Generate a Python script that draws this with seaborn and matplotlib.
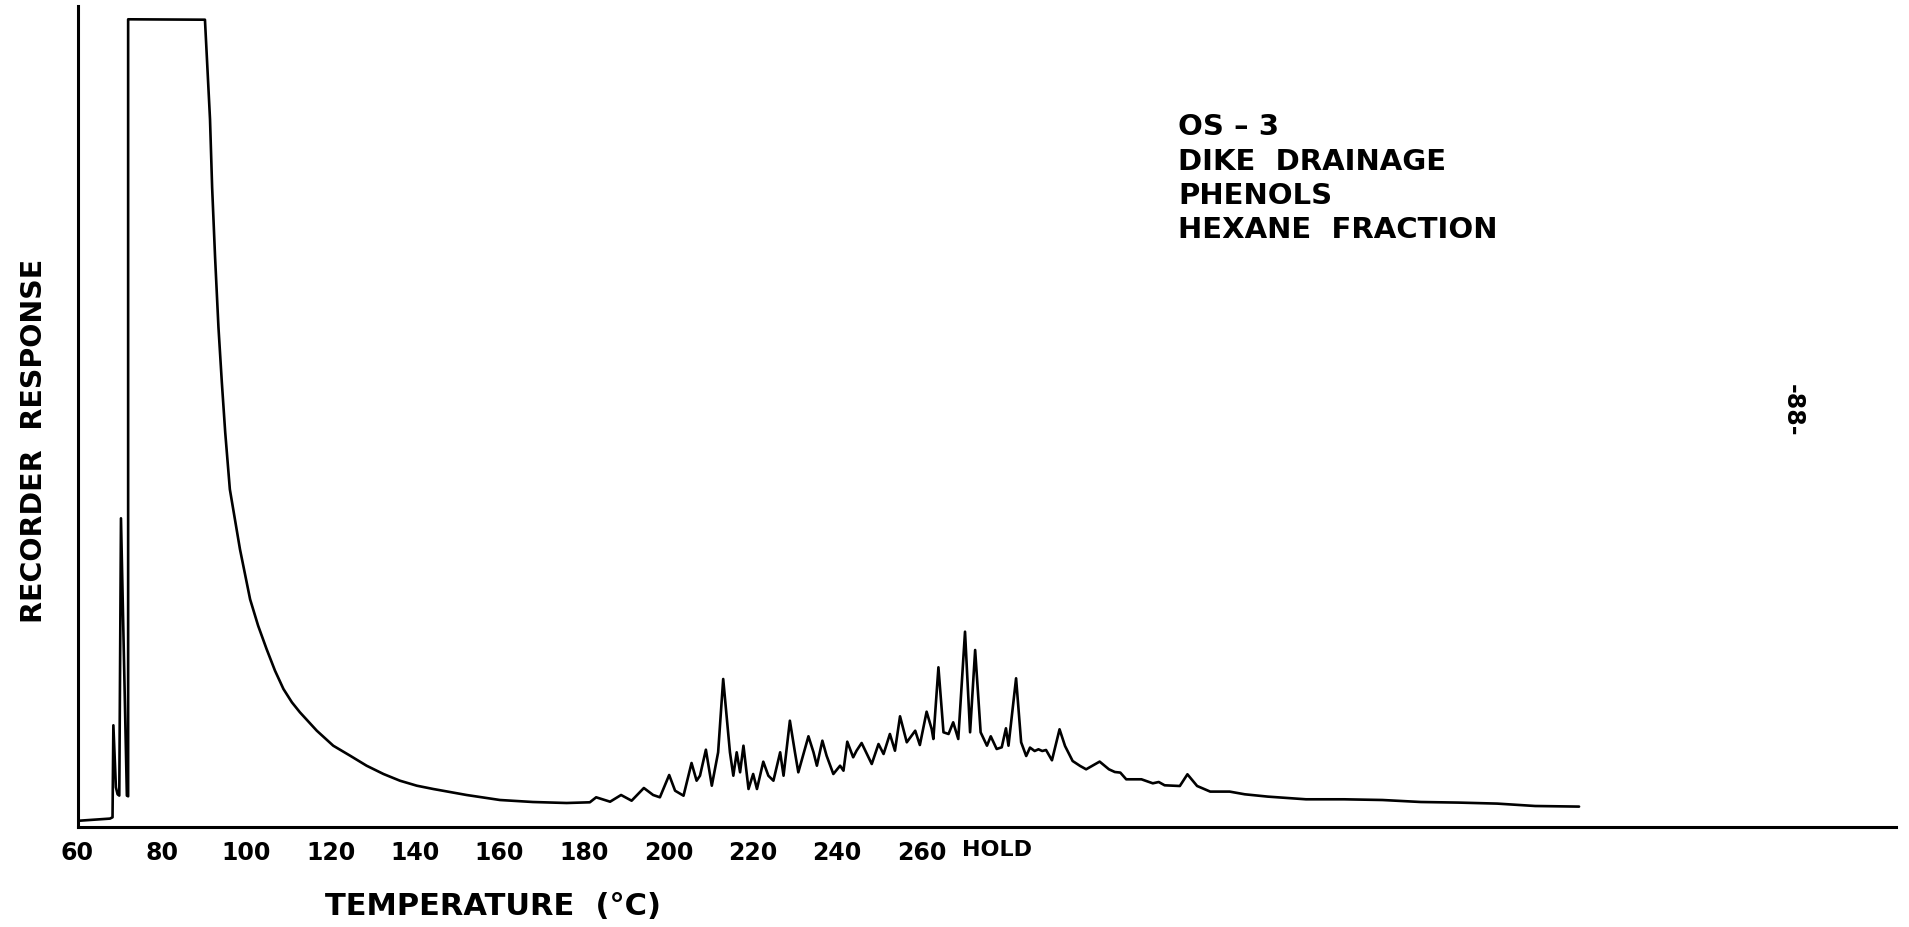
import numpy as np
import pandas as pd
import matplotlib
matplotlib.use("Agg")
import matplotlib.pyplot as plt
import seaborn as sns

# chromatogram trace
# x = oven temperature in deg C (carried on linearly past the 265 C hold), y = recorder units
solvent_x = [60.1, 67.7, 68.3, 68.5, 69.1, 69.5, 69.9, 70.3, 71.7, 72.0, 72.0, 90.2]
solvent_y = [6.5, 8.7, 10, 102, 40, 33, 31.7, 309, 31.7, 31, 808, 807.6]

decay_x = [91.4, 91.9, 92.6, 93.4, 94.2, 95.0, 96.1, 98.5, 100.9, 102.8,
           104.8, 106.8, 108.8, 110.8, 112.7, 116.7, 120.6, 124.6, 128.5, 132.5,
           136.4, 140.4, 144.3, 152.2, 160.1, 167.9, 175.9, 181.4]
decay_y = [708, 640, 570, 500, 445, 395, 338, 278, 228, 201.6,
           178.3, 156.6, 138.3, 125, 115, 96.6, 81.6, 71.6, 61.6, 53.3,
           46.6, 41.6, 38.3, 32.3, 27.3, 25.3, 24.3, 25]

peaks_x = [182.9, 186.2, 188.8, 191.3, 194.2, 196.4, 198.0, 200.2, 201.6, 203.6,
           205.5, 206.7, 207.5, 208.9, 210.3, 211.8, 213.0, 214.6, 215.4, 216.2,
           217.0, 217.8, 219.0, 220.1, 221.0, 222.5, 223.7, 224.9, 226.5, 227.3,
           228.8, 230.0, 230.8, 233.2, 234.4, 235.2, 236.5, 237.5, 239.1, 240.7,
           241.5, 242.4, 243.8, 244.6, 245.8, 248.2, 249.8, 251.0, 252.5, 253.7,
           254.9, 256.5, 258.5, 259.6, 261.2, 262.4, 262.8, 264.0, 265.2, 266.4,
           267.5, 268.7, 270.3, 271.5, 272.7, 274.0, 275.5, 276.4, 277.8, 279.0,
           280.0, 280.6, 282.4, 283.6, 284.8, 285.7, 286.8, 287.7, 288.6, 289.5,
           290.9, 292.7, 294.0]
peaks_y = [30, 25.6, 32.3, 26.6, 39.3, 32.3, 30, 52.3, 36.6, 31.6,
           64.3, 46.6, 51.6, 77.6, 41.6, 75, 148.3, 75, 51.6, 75,
           55, 81.6, 38.3, 53.3, 38.3, 65.6, 51.6, 46.6, 75, 51.6,
           106.6, 75, 55, 91, 75, 61.6, 86.6, 71.6, 53.3, 61.6,
           56.6, 85.6, 70, 76.6, 84.3, 63.3, 83.3, 73.3, 93.3, 76.6,
           111, 85, 96.6, 82.3, 115.6, 98.3, 88.3, 160, 95, 93.3,
           105, 88.3, 195.6, 95, 177.3, 95, 81.6, 91, 78.3, 80,
           99, 81.6, 149, 85, 71.3, 79.7, 76.3, 78, 76.3, 77.3,
           67, 98, 81.3]

tail_x = [295.8, 297.6, 299.0, 302.2, 304.4, 305.8, 307.1, 308.5, 312.1, 314.8,
          316.2, 317.6, 321.2, 323.0, 325.3, 328.4, 333.0, 336.6, 342.0, 351.1,
          360.1, 369.2, 378.3, 387.3, 396.4, 405.4, 415.8]
tail_y = [66.3, 61.3, 58, 65.7, 58, 55.3, 54.7, 48, 48, 44,
          45.3, 42, 41.3, 53, 41.3, 35.7, 35.7, 33, 30.7, 28,
          28, 27.3, 25.3, 24.7, 23.7, 21.3, 20.7]

tick_vals = [60, 80, 100, 120, 140, 160, 180, 200, 220, 240, 260]
tick_labels = [str(t) for t in tick_vals]
hold_temp = 264.8

sample_lines = ["OS \u2013 3", "DIKE  DRAINAGE", "PHENOLS", "HEXANE  FRACTION"]

df = pd.DataFrame({
    "temp": solvent_x + decay_x + peaks_x + tail_x,
    "response": solvent_y + decay_y + peaks_y + tail_y,
})

sns.set_style("white")
plt.rcParams["font.family"] = ["DejaVu Sans"]
plt.rcParams["font.weight"] = "bold"
plt.rcParams["axes.labelweight"] = "bold"
plt.rcParams["text.color"] = "black"
plt.rcParams["axes.labelcolor"] = "black"

W, H = 1909, 928
fig = plt.figure(figsize=(W / 100, H / 100), dpi=100)
ax = fig.add_axes([77.5 / W, (H - 828.3) / H, 1818.5 / W, 821.6 / H])

sns.lineplot(data=df, x="temp", y="response", sort=False, estimator=None,
             color="black", linewidth=1.9, ax=ax)

ax.set_xlim(60, 490.9)
ax.set_ylim(0, 821.6)
for s in ["top", "right"]:
    ax.spines[s].set_visible(False)
for s in ["left", "bottom"]:
    ax.spines[s].set_linewidth(2.2)
    ax.spines[s].set_color("black")

ax.set_xticks(tick_vals)
ax.set_xticklabels(tick_labels)
ax.set_xticks([hold_temp], minor=True)
ax.tick_params(axis="x", which="major", direction="in", length=12, width=1.8,
               pad=9, labelsize=17, colors="black")
ax.tick_params(axis="x", which="minor", direction="inout", length=21, width=1.8,
               colors="black")
ax.set_yticks([])

ax.set_xlabel("TEMPERATURE  (\u00b0C)", fontsize=22, va="center")
ax.xaxis.set_label_coords((493 - 77.5) / 1818.5, (828.3 - 907) / 821.6)
ax.set_ylabel("RECORDER  RESPONSE", fontsize=20.5, va="center", ha="center")
ax.yaxis.set_label_coords((34 - 77.5) / 1818.5, (828.3 - 441) / 821.6)

ax.text(hold_temp + 4.8, (828.3 - 850) / 821.6, "HOLD", fontsize=16,
        transform=ax.get_xaxis_transform(), ha="left", va="center")

for i, line in enumerate(sample_lines):
    y_px = [126.7, 161.5, 195.7, 229.5][i]
    fig.text(1178 / W, 1 - y_px / H, line, fontsize=21, ha="left", va="center")

fig.text(1793 / W, 1 - 410 / H, "-88-", fontsize=17, rotation=270,
         ha="center", va="center")

fig.savefig("out.png", dpi=100)
